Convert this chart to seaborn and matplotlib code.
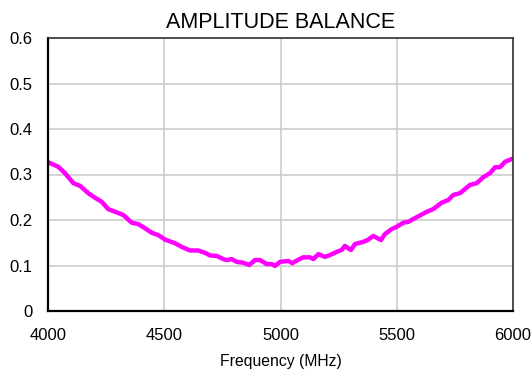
import numpy as np
import pandas as pd
import seaborn as sns
import matplotlib
matplotlib.use('Agg')
import matplotlib.pyplot as plt

# values
freq_mhz = [4000, 4044, 4073, 4109, 4138, 4173, 4202, 4231, 4259, 4324, 4360,
            4388, 4417, 4446, 4474, 4503, 4546, 4575, 4611, 4646, 4675, 4697,
            4726, 4754, 4768, 4790, 4812, 4840, 4866, 4890, 4912, 4941, 4963,
            4976, 4998, 5034, 5051, 5070, 5098, 5127, 5141, 5163, 5191, 5213,
            5242, 5263, 5277, 5303, 5320, 5356, 5375, 5399, 5432, 5449, 5478,
            5500, 5528, 5550, 5578, 5629, 5657, 5693, 5722, 5743, 5772, 5815,
            5844, 5872, 5901, 5923, 5944, 5966, 6000]
balance = [0.327, 0.317, 0.303, 0.281, 0.275, 0.259, 0.249, 0.240, 0.224, 0.211, 0.194,
           0.191, 0.182, 0.172, 0.167, 0.157, 0.149, 0.141, 0.133, 0.133, 0.128, 0.122,
           0.121, 0.114, 0.112, 0.114, 0.108, 0.106, 0.101, 0.112, 0.112, 0.103, 0.103,
           0.099, 0.108, 0.110, 0.105, 0.111, 0.118, 0.118, 0.114, 0.125, 0.119, 0.123,
           0.130, 0.134, 0.143, 0.134, 0.147, 0.152, 0.156, 0.165, 0.156, 0.169, 0.180,
           0.185, 0.194, 0.196, 0.204, 0.218, 0.224, 0.238, 0.244, 0.255, 0.259, 0.277,
           0.281, 0.294, 0.303, 0.316, 0.316, 0.328, 0.335]
x_ticks = [4000, 4500, 5000, 5500, 6000]
y_ticks = [0, 0.1, 0.2, 0.3, 0.4, 0.5, 0.6]
y_labels = ['0', '0.1', '0.2', '0.3', '0.4', '0.5', '0.6']

df = pd.DataFrame({'freq': freq_mhz, 'bal': balance})

sns.set_style('white')
plt.rcParams['font.family'] = ['Liberation Sans', 'DejaVu Sans']
plt.rcParams['text.color'] = 'black'
plt.rcParams['axes.labelcolor'] = 'black'
plt.rcParams['xtick.color'] = 'black'
plt.rcParams['ytick.color'] = 'black'

fig = plt.figure(figsize=(5.32, 3.73), dpi=100)
ax = fig.add_axes([48 / 532, 1 - 311 / 373, (513 - 48) / 532, (311 - 38) / 373])

sns.lineplot(data=df, x='freq', y='bal', color='#ff00ff', linewidth=3.2, ax=ax)

ax.set_xlim(4000, 6000)
ax.set_ylim(0, 0.6)
ax.set_xticks(x_ticks)
ax.set_yticks(y_ticks)
ax.set_yticklabels(y_labels)
ax.grid(True, color='#cccccc', linewidth=1.2)
ax.tick_params(length=0, labelsize=12, labelcolor='black')
ax.tick_params(axis='y', pad=11)
ax.tick_params(axis='x', pad=12)

for side in ['left', 'bottom']:
    ax.spines[side].set_color('black')
    ax.spines[side].set_linewidth(1.6)
for side in ['top', 'right']:
    ax.spines[side].set_color('#333333')
    ax.spines[side].set_linewidth(1.2)

ax.set_title('AMPLITUDE BALANCE', fontsize=15.5, pad=7, color='black')
ax.set_xlabel('Frequency (MHz)', fontsize=11.3, labelpad=8, color='black')
ax.set_ylabel('')

fig.savefig('out.png', dpi=100)
